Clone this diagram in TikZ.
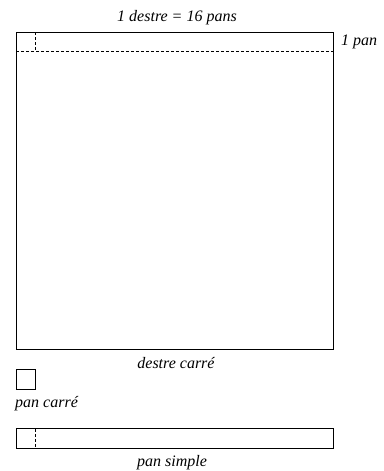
\documentclass[tikz,border=0pt]{standalone}
\usepackage{fontspec}
\setmainfont{Liberation Serif}
\begin{document}
\begin{tikzpicture}[x=1pt,y=-1pt,
  box/.style={draw,line width=0.9pt},
  cut/.style={draw,dashed,line width=0.7pt,dash pattern=on 3pt off 2pt},
  lab/.style={font=\itshape\fontsize{16}{19}\selectfont,inner sep=0pt}]
\useasboundingbox (0,0) rectangle (383,471);
% big square
\coordinate (A) at (16,32);
\coordinate (B) at (333,349);
\draw[box] (A) rectangle (B);
\coordinate (h1) at (16,51.8);
\coordinate (h2) at (333,51.8);
\draw[cut] (h1) -- (h2);
\coordinate (v1) at (35.8,32);
\coordinate (v2) at (35.8,51.8);
\draw[cut] (v1) -- (v2);
\node[lab] (top) at (177,18) {1 destre = 16 pans};
\node[lab,anchor=west] (pan) at (341,42) {1 pan};
\node[lab] (dc) at (176,363) {destre carré};
% pan carré
\coordinate (S1) at (16,369.5);
\coordinate (S2) at (35.8,389.3);
\draw[box] (S1) rectangle (S2);
\node[lab,anchor=west] (pc) at (15,404) {pan carré};
% pan simple
\coordinate (P1) at (16,428.8);
\coordinate (P2) at (333,448.6);
\draw[box] (P1) rectangle (P2);
\coordinate (q1) at (35.8,428.8);
\coordinate (q2) at (35.8,448.6);
\draw[cut] (q1) -- (q2);
\node[lab] (ps) at (172,463) {pan simple};
\end{tikzpicture}
\end{document}
